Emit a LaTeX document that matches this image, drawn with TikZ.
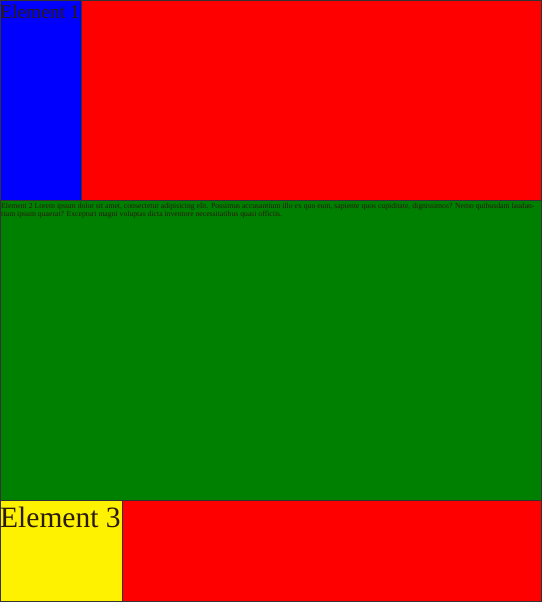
\documentclass[tikz,border=0pt]{standalone}
\usepackage{fontspec}
\setmainfont{Liberation Serif}
\definecolor{edge}{HTML}{333333}
\definecolor{ink}{HTML}{2A1A10}
\definecolor{leaf}{RGB}{0,128,0}
\tikzset{
	panel/.style={draw=edge, line width=0.8pt},
	label/.style={inner sep=0pt, text=ink, anchor=base west}
}
\begin{document}
\begin{tikzpicture}[x=1pt, y=-1pt]
		\useasboundingbox (0,0) rectangle (542,602);
		% top row
		\filldraw[panel, fill=blue] (0.5,0.5) rectangle (81,200);
		\filldraw[panel, fill=red] (81,0.5) rectangle (541.5,200);
		% middle
		\filldraw[panel, fill=leaf] (0.5,200) rectangle (541.5,500);
		% bottom row
		\filldraw[panel, fill=yellow] (0.5,500) rectangle (122,601.5);
		\filldraw[panel, fill=red] (122,500) rectangle (541.5,601.5);
		\node[label, font=\fontsize{19.5}{19.5}\selectfont] (el1) at (0,18.5) {Element 1};
		\node[label, anchor=north west, align=left, font=\fontsize{7.7}{8.5}\selectfont] (el2) at (1,202.5)
			{Element 2 Lorem ipsum dolor sit amet, consectetur adipisicing elit. Possimus accusantium illo ex quo eum, sapiente quos cupiditate, dignissimos? Nemo quibusdam laudan-\\
			tium ipsum quaerat? Excepturi magni voluptas dicta inventore necessitatibus quasi officiis.};
		\node[label, font=\fontsize{29.5}{29.5}\selectfont] (el3) at (0,527.5) {Element 3};
	\end{tikzpicture}
\end{document}
